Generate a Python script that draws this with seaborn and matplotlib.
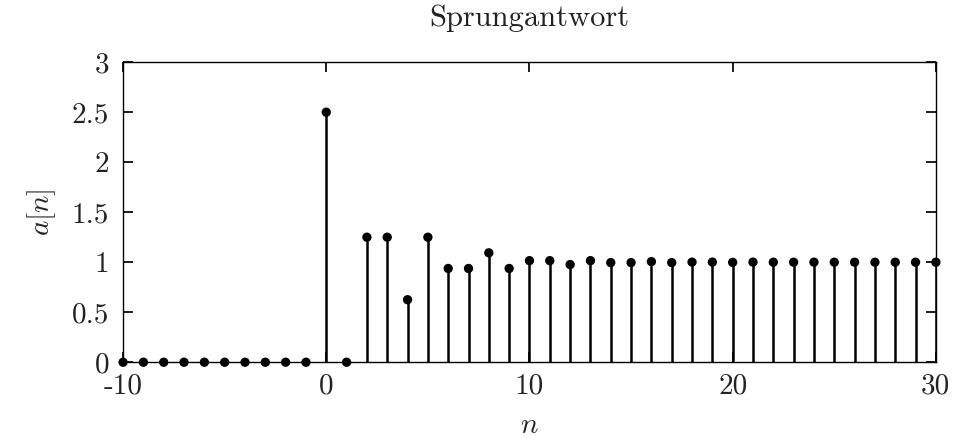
import numpy as np
import pandas as pd
import matplotlib
matplotlib.use("Agg")
import matplotlib.pyplot as plt
import seaborn as sns

# step response samples a[n], n = -10 ... 30
n_vals = list(range(-10, 31))
a_vals = [
    0, 0, 0, 0, 0, 0, 0, 0, 0, 0,
    2.5, 0, 1.25, 1.25, 0.625, 1.25, 0.9375, 0.9375, 1.0938, 0.9375,
    1.0156, 1.0156, 0.9766, 1.0156, 0.9961, 0.9961, 1.0059, 0.9961,
    1.001, 1.001, 0.9985, 1.001, 1.0002, 1.0002, 1.0004, 0.9998,
    1.0, 0.9999, 0.9999, 1.0001, 1.0,
]
x_ticks = [-10, 0, 10, 20, 30]
y_ticks = [0, 0.5, 1, 1.5, 2, 2.5, 3]

df = pd.DataFrame({"n": n_vals, "a": a_vals})

sns.set_theme(style="ticks")
plt.rcParams.update(
    {
        "font.family": ["cmr10", "DejaVu Serif"],
        "mathtext.fontset": "cm",
        "axes.unicode_minus": False,
        "axes.formatter.use_mathtext": False,
        "axes.linewidth": 1.0,
        "axes.edgecolor": "black",
        "xtick.direction": "in",
        "ytick.direction": "in",
        "xtick.top": True,
        "ytick.right": True,
        "xtick.major.size": 7,
        "ytick.major.size": 7,
        "xtick.color": "black",
        "ytick.color": "black",
        "text.color": "#222222",
    }
)

fig, ax = plt.subplots(figsize=(9.54, 4.38), dpi=100)
fig.subplots_adjust(left=0.129, right=0.981, bottom=0.173, top=0.858)

ax.vlines(df["n"], 0, df["a"], color="black", linewidth=1.8, zorder=2)
sns.scatterplot(
    data=df, x="n", y="a", color="black", s=45, edgecolor="none",
    ax=ax, zorder=3, clip_on=False, legend=False,
)

ax.set_xlim(-10, 30)
ax.set_ylim(0, 3)
ax.set_xticks(x_ticks)
ax.set_xticklabels([str(t) for t in x_ticks])
ax.set_yticks(y_ticks)
ax.set_yticklabels([f"{t:g}" for t in y_ticks])
ax.tick_params(axis="x", labelsize=21, pad=8, labelcolor="#222222")
ax.tick_params(axis="y", labelsize=21, pad=10, labelcolor="#222222")

ax.set_title("Sprungantwort", fontsize=22, pad=26)
ax.set_xlabel(r"$n$", fontsize=21, labelpad=9)
ax.set_ylabel(r"$a[n]$", fontsize=21, labelpad=10)

plt.savefig("out.png", dpi=100)
